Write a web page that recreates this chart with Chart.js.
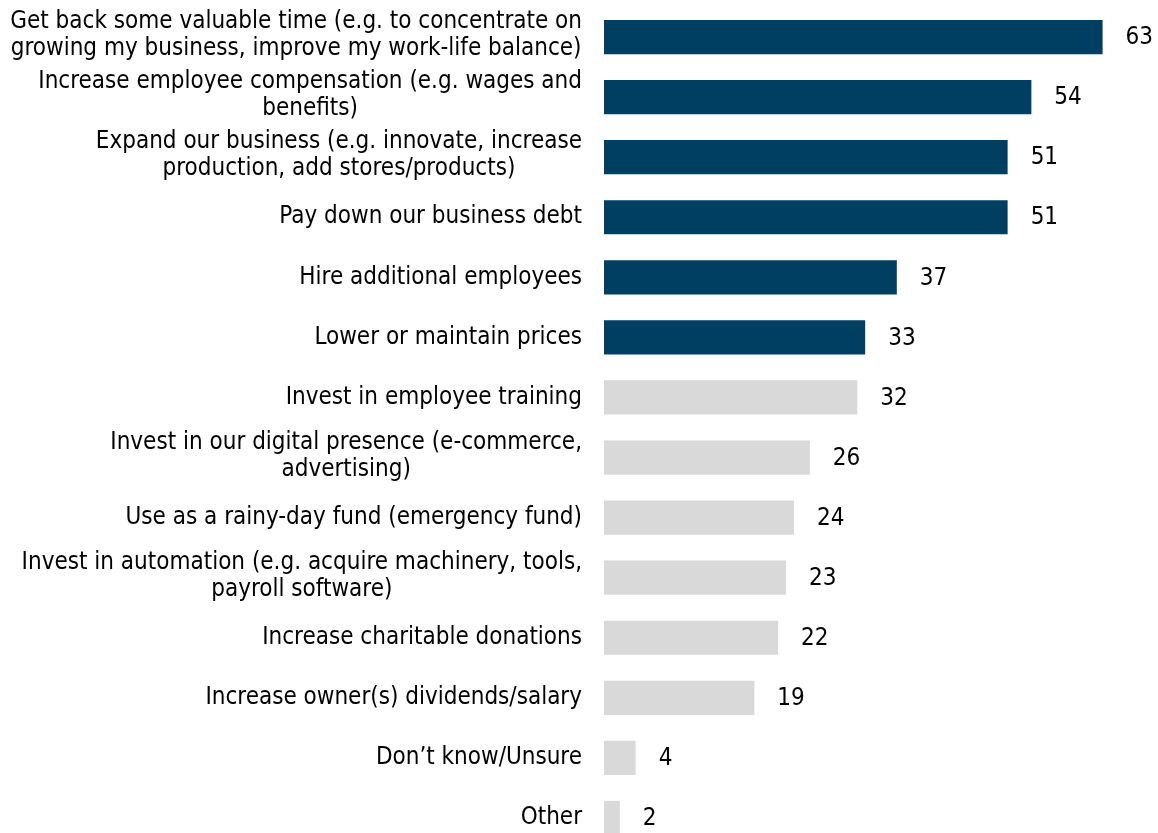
<!DOCTYPE html>
<html>
<head>
<meta charset="utf-8">
<script src="https://cdn.jsdelivr.net/npm/chart.js@4"></script>
<style>
  html, body { margin: 0; padding: 0; background: #fff; overflow: hidden; }
</style>
</head>
<body>
<canvas id="myChart" width="1158" height="850"></canvas>
<script>
// survey answers, top to bottom
var categories = [
	["Get back some valuable time (e.g. to concentrate on", "growing my business, improve my work-life balance)"],
	["Increase employee compensation (e.g. wages and", "benefits)"],
	["Expand our business (e.g. innovate, increase", "production, add stores/products)"],
	["Pay down our business debt"],
	["Hire additional employees"],
	["Lower or maintain prices"],
	["Invest in employee training"],
	["Invest in our digital presence (e-commerce,", "advertising)"],
	["Use as a rainy-day fund (emergency fund)"],
	["Invest in automation (e.g. acquire machinery, tools,", "payroll software)"],
	["Increase charitable donations"],
	["Increase owner(s) dividends/salary"],
	["Don\u2019t know/Unsure"],
	["Other"],
];
var values = [63, 54, 51, 51, 37, 33, 32, 26, 24, 23, 22, 19, 4, 2];
var highlightCount = 6;

var FONT = '24px "DejaVu Sans Condensed", "DejaVu Sans", sans-serif';
var NAVY = "#003f62";
var GREY = "#d9d9d9";

var barColors = values.map(function (v, i) {
	return i < highlightCount ? NAVY : GREY;
});

// answer text on the left, each block right-aligned, lines centred within the block
var sideLabels = {
	id: "sideLabels",
	afterDraw: function (chart) {
		var ctx = chart.ctx;
		var yScale = chart.scales.y;
		var right = chart.chartArea.left - 22;
		var lineHeight = 27;
		ctx.save();
		ctx.font = FONT;
		ctx.fillStyle = "#000";
		ctx.textAlign = "center";
		ctx.textBaseline = "middle";
		categories.forEach(function (lines, i) {
			var w = 0;
			lines.forEach(function (l) {
				w = Math.max(w, ctx.measureText(l).width);
			});
			var cx = right - w / 2;
			var cy = yScale.getPixelForTick(i) - (lines.length > 1 ? 1.5 : 0);
			lines.forEach(function (l, j) {
				ctx.fillText(l, cx, cy + (j - (lines.length - 1) / 2) * lineHeight);
			});
		});
		ctx.restore();
	},
};

// value at the end of each bar
var valueLabels = {
	id: "valueLabels",
	afterDatasetsDraw: function (chart) {
		var ctx = chart.ctx;
		var meta = chart.getDatasetMeta(0);
		ctx.save();
		ctx.font = FONT;
		ctx.fillStyle = "#000";
		ctx.textAlign = "left";
		ctx.textBaseline = "middle";
		meta.data.forEach(function (bar, i) {
			ctx.fillText(String(values[i]), bar.x + 23, bar.y + 1);
		});
		ctx.restore();
	},
};

var ctx = document.getElementById("myChart").getContext("2d");

var graphData = {
	type: "bar",
	data: {
		labels: categories.map(function (l) { return l.join(" "); }),
		datasets: [
			{
				data: values,
				backgroundColor: barColors,
				borderWidth: 0,
				barPercentage: 0.57,
				categoryPercentage: 1,
			},
		],
	},
	options: {
		indexAxis: "y",
		responsive: false,
		animation: false,
		devicePixelRatio: 1,
		layout: { padding: { left: 604, top: 7, right: 0, bottom: 2 } },
		scales: {
			x: { display: false, min: 0, max: 70 },
			y: { display: false },
		},
		plugins: {
			legend: { display: false },
			tooltip: { enabled: false },
		},
	},
	plugins: [sideLabels, valueLabels],
};

var myChart = new Chart(ctx, graphData);
</script>
</body>
</html>
